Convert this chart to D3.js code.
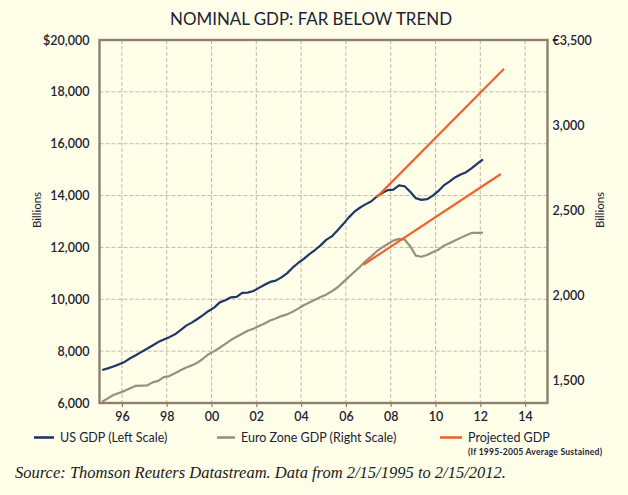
<!DOCTYPE html>
<html><head><meta charset="utf-8">
<script src="https://cdn.jsdelivr.net/npm/d3@7"></script>
<style>
html,body{margin:0;padding:0;background:#FFFEE8;}
svg{display:block;}
</style></head>
<body>
<script>
// ---- data ----
const startYear = 1995.12;           // 2/15/1995, quarterly steps
const usGDP = [7270,7335,7410,7490,7585,7725,7840,7970,8090,8220,8350,8450,8540,8650,8810,8985,
  9100,9240,9390,9550,9680,9880,9965,10075,10090,10245,10255,10320,10440,10560,10670,10720,
  10845,11000,11220,11400,11560,11740,11900,12080,12290,12425,12650,12890,13150,13370,13530,13660,
  13770,13955,14100,14210,14230,14390,14360,14150,13900,13835,13860,13990,14170,14390,14540,14700,
  14810,14900,15060,15230,15400];
const euroGDP = [1372,1392,1412,1424,1436,1452,1466,1467,1468,1486,1495,1517,1523,1540,1557,1573,
  1586,1602,1625,1652,1670,1690,1713,1735,1755,1772,1790,1802,1817,1832,1850,1862,
  1876,1886,1902,1920,1940,1956,1972,1988,2002,2022,2044,2074,2105,2135,2165,2198,
  2226,2256,2280,2300,2320,2330,2326,2287,2232,2225,2235,2252,2266,2290,2305,2320,
  2336,2352,2365,2366,2367];
const usProjYears = [2007.37, 2013.06];
const usProjValues = [13930, 18890];
const euroProjYears = [2006.78, 2012.92];
const euroProjValues = [2178, 2712];
const xTicks = [1996,1998,2000,2002,2004,2006,2008,2010,2012,2014];
const leftTicks = [6000,8000,10000,12000,14000,16000,18000,20000];
const rightTicks = [1500,2000,2500,3000,3500];
const legendLabels = ["US GDP (Left Scale)","Euro Zone GDP (Right Scale)","Projected GDP"];
const legendNote = "(If 1995-2005 Average Sustained)";
const titleText = "NOMINAL GDP: FAR BELOW TREND";
const sourceText = "Source: Thomson Reuters Datastream. Data from 2/15/1995 to 2/15/2012.";

// ---- layout ----
const W = 628, H = 495;
const L = 99.5, R = 547.5, T = 40, B = 403;
const cUS = "#1E3768", cEU = "#9A8E7E", cPR = "#F0622F", cFrame = "#8E806C", cText = "#1B2233";

const svg = d3.select("body").append("svg").attr("width", W).attr("height", H);
svg.append("rect").attr("width", W).attr("height", H).attr("fill", "#FFFEE8");

const x = d3.scaleLinear().domain([1995, 2015]).range([L, R]);
const yL = d3.scaleLinear().domain([6000, 20000]).range([B, T]);
const yR = d3.scaleLinear().domain([1500, 3500]).range([380, T]);

const font = "Lato, 'Open Sans', sans-serif";

// grid
const g = svg.append("g");
g.selectAll(".hg").data(leftTicks.filter(d => d > 6000 && d < 20000)).join("line")
  .attr("x1", L).attr("x2", R).attr("y1", d => yL(d)).attr("y2", d => yL(d))
  .attr("stroke", "#BDB3A2").attr("stroke-width", 0.9).attr("stroke-dasharray", "4,2");
g.selectAll(".vg").data(xTicks).join("line")
  .attr("x1", d => x(d)).attr("x2", d => x(d)).attr("y1", T).attr("y2", B)
  .attr("stroke", "#BDB3A2").attr("stroke-width", 0.9).attr("stroke-dasharray", "4,2");

// x axis
const xAxis = d3.axisBottom(x).tickValues(xTicks).tickSize(4).tickPadding(5)
  .tickFormat(d => String(d % 100).padStart(2, "0"));
const xa = svg.append("g").attr("transform", `translate(0,${B})`).call(xAxis);
xa.select(".domain").remove();
xa.selectAll("line").attr("stroke", cFrame).attr("stroke-width", 1.2);
xa.selectAll("text").attr("font-family", font).attr("font-size", 12.5).attr("fill", cText)
  .attr("font-weight", 600);

// left axis
const la = svg.append("g").attr("transform", `translate(${L - 10},0)`)
  .call(d3.axisLeft(yL).tickValues(leftTicks).tickSize(0).tickPadding(0)
    .tickFormat(d => (d === 20000 ? "$" : "") + d3.format(",")(d)));
la.select(".domain").remove();
la.selectAll("text").attr("font-family", font).attr("font-size", 12.5).attr("fill", cText)
  .attr("font-weight", 600);

// right axis
const ra = svg.append("g").attr("transform", `translate(${R + 5},0)`)
  .call(d3.axisRight(yR).tickValues(rightTicks).tickSize(0).tickPadding(0)
    .tickFormat(d => (d === 3500 ? "€" : "") + d3.format(",")(d)));
ra.select(".domain").remove();
ra.selectAll("text").attr("font-family", font).attr("font-size", 12.5).attr("fill", cText)
  .attr("font-weight", 600);

// axis titles
svg.append("text").attr("transform", "translate(41,210) rotate(-90)").attr("text-anchor", "middle")
  .attr("font-family", font).attr("font-size", 11.5).attr("fill", cText).text("Billions");
svg.append("text").attr("transform", "translate(604,210) rotate(-90)").attr("text-anchor", "middle")
  .attr("font-family", font).attr("font-size", 11.5).attr("fill", cText).text("Billions");

// lines
const usData = usGDP.map((v, i) => [startYear + 0.25 * i, v]);
const euData = euroGDP.map((v, i) => [startYear + 0.25 * i, v]);
const lineL = d3.line().x(d => x(d[0])).y(d => yL(d[1]));
const lineR = d3.line().x(d => x(d[0])).y(d => yR(d[1]));

svg.append("path").datum(euData).attr("d", lineR).attr("fill", "none")
  .attr("stroke", cEU).attr("stroke-width", 2.2).attr("stroke-linejoin", "round");
svg.append("path").datum(usData).attr("d", lineL).attr("fill", "none")
  .attr("stroke", cUS).attr("stroke-width", 2.2).attr("stroke-linejoin", "round");
svg.append("path").datum(usProjYears.map((t, i) => [t, usProjValues[i]])).attr("d", lineL)
  .attr("fill", "none").attr("stroke", cPR).attr("stroke-width", 2.2);
svg.append("path").datum(euroProjYears.map((t, i) => [t, euroProjValues[i]])).attr("d", lineR)
  .attr("fill", "none").attr("stroke", cPR).attr("stroke-width", 2.2);

// frame
svg.append("rect").attr("x", L).attr("y", T).attr("width", R - L).attr("height", B - T)
  .attr("fill", "none").attr("stroke", cFrame).attr("stroke-width", 2.4);

// title
svg.append("text").attr("x", 311).attr("y", 24.5).attr("text-anchor", "middle")
  .attr("font-family", font).attr("font-size", 17).attr("fill", cText)
  .attr("textLength", 282).attr("lengthAdjust", "spacingAndGlyphs").text(titleText);

// legend
const legX = [34, 217, 440], legLine = [20, 18, 22], legCol = [cUS, cEU, cPR];
legendLabels.forEach((lab, i) => {
  svg.append("line").attr("x1", legX[i]).attr("x2", legX[i] + legLine[i])
    .attr("y1", 437.5).attr("y2", 437.5).attr("stroke", legCol[i]).attr("stroke-width", 2.6);
  svg.append("text").attr("x", legX[i] + legLine[i] + 6).attr("y", 442)
    .attr("font-family", font).attr("font-size", 12.5).attr("fill", cText).text(lab);
});
svg.append("text").attr("x", 468).attr("y", 455).attr("font-family", font).attr("font-size", 8.5)
  .attr("font-weight", "bold").attr("fill", cText).attr("textLength", 134).text(legendNote);

// source
svg.append("text").attr("x", 15).attr("y", 478).attr("font-family", "'Liberation Serif', serif")
  .attr("font-style", "italic").attr("font-size", 16.5).attr("fill", "#1a1a1a")
  .attr("textLength", 491).attr("lengthAdjust", "spacingAndGlyphs").text(sourceText);
</script>
</body></html>
